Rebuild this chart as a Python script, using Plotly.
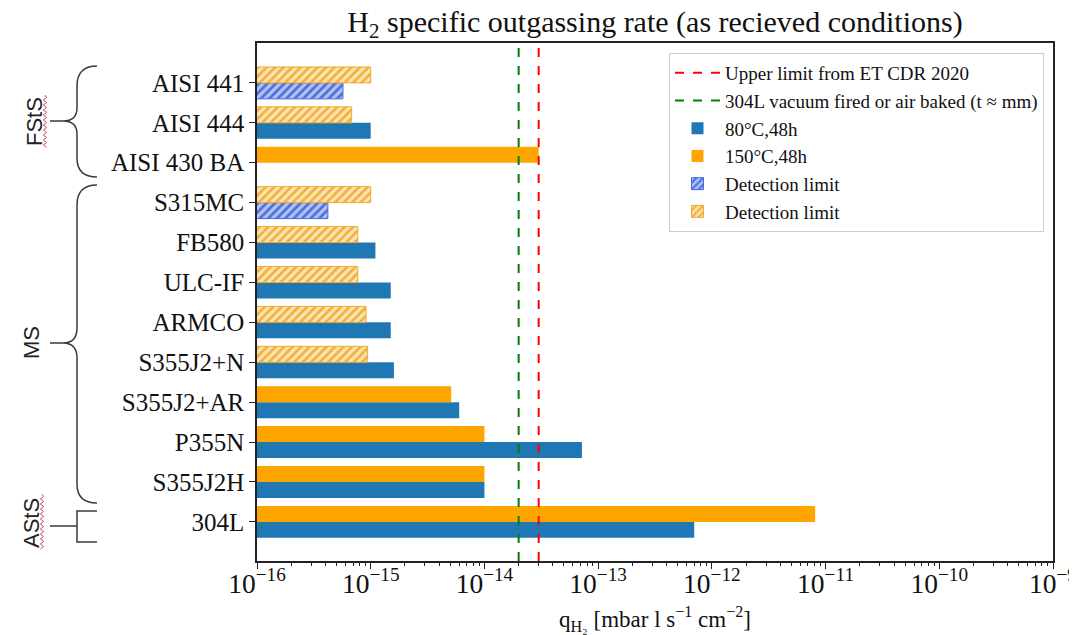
import plotly.graph_objects as go

# ---------------- data ----------------
categories = ["304L", "S355J2H", "P355N", "S355J2+AR", "S355J2+N", "ARMCO",
              "ULC-IF", "FB580", "S315MC", "AISI 430 BA", "AISI 444", "AISI 441"]
blue_80C = [7.0e-13, 1.0e-14, 7.2e-14, 6.0e-15, 1.6e-15, 1.5e-15,
            1.5e-15, 1.1e-15, None, None, 1.0e-15, None]
orange_150C = [8.1e-12, 1.0e-14, 1.0e-14, 5.1e-15, None, None,
               None, None, None, 3.0e-14, None, None]
blue_detlim = [None, None, None, None, None, None,
               None, None, 4.2e-16, None, None, 5.7e-16]
orange_detlim = [None, None, None, None, 9.4e-16, 9.1e-16,
                 7.7e-16, 7.7e-16, 1.0e-15, None, 6.8e-16, 1.0e-15]
upper_limit_ET = 3.0e-14
vacuum_fired_304L = 2.0e-14
group_labels = ["FStS", "MS", "AStS"]

# ---------------- layout geometry (pixels, in screenshot coordinates) ----------------
OFF = 8  # default page body margin
W, H = 1077 - OFF, 635 - OFF
PL, PR, PT, PB = 257, 1053, 43, 561
PW, PH = PR - PL, PB - PT


def px(x):
    return (x - PL) / PW


def py(y):
    return (PB - y) / PH


SERIF = "Liberation Serif"
SANS = "Liberation Sans"

fig = go.Figure()

# reference lines (on overlay axis spanning full height)
fig.add_trace(go.Scatter(x=[upper_limit_ET, upper_limit_ET], y=[0, 1], yaxis="y2",
                         mode="lines", line=dict(color="red", dash="dash", width=2),
                         name="Upper limit from ET CDR 2020"))
fig.add_trace(go.Scatter(x=[vacuum_fired_304L, vacuum_fired_304L], y=[0, 1], yaxis="y2",
                         mode="lines", line=dict(color="green", dash="dash", width=2),
                         name="304L vacuum fired or air baked (t ≈ mm)"))

BW = 0.4
fig.add_trace(go.Bar(y=categories, x=blue_80C, orientation="h", name="80°C,48h",
                     offset=-BW, width=BW,
                     marker=dict(color="#1f77b4", line=dict(width=0))))
fig.add_trace(go.Bar(y=categories, x=orange_150C, orientation="h", name="150°C,48h",
                     offset=0, width=BW,
                     marker=dict(color="#ffa500", line=dict(width=0))))
fig.add_trace(go.Bar(y=categories, x=blue_detlim, orientation="h", name="Detection limit",
                     offset=-BW, width=BW,
                     marker=dict(color="#4169e1",
                                 line=dict(color="#4169e1", width=1),
                                 pattern=dict(shape="/", bgcolor="#b4c2f0", fgcolor="#4a6fe0",
                                              size=6, solidity=0.45, fillmode="replace"))))
fig.add_trace(go.Bar(y=categories, x=orange_detlim, orientation="h", name="Detection limit ",
                     offset=0, width=BW,
                     marker=dict(color="#f5b030",
                                 line=dict(color="#f2aa2a", width=1),
                                 pattern=dict(shape="/", bgcolor="#fbe4b4", fgcolor="#f2b03a",
                                              size=6, solidity=0.45, fillmode="replace"))))

# ---------------- decorations: braces ----------------
def path(points_cmds):
    out = []
    for cmd in points_cmds:
        c = cmd[0]
        nums = cmd[1:]
        conv = []
        for i in range(0, len(nums), 2):
            conv.append(f"{px(nums[i]):.5f},{py(nums[i+1]):.5f}")
        out.append(c + " " + " ".join(conv))
    return " ".join(out)


brace_col = "#3a3a3a"
fstS = path([("M", 97, 66), ("Q", 77, 66, 77, 86), ("L", 77, 108), ("Q", 77, 121, 63, 121),
             ("Q", 77, 121, 77, 134), ("L", 77, 158), ("Q", 77, 177, 97, 177),
             ("M", 50, 121), ("L", 63, 121)])
ms = path([("M", 97, 185), ("Q", 77, 185, 77, 205), ("L", 77, 328), ("Q", 77, 343, 63, 343),
           ("Q", 77, 343, 77, 358), ("L", 77, 484), ("Q", 77, 503, 97, 503),
           ("M", 50, 343), ("L", 63, 343)])
asts = path([("M", 97, 511), ("L", 77, 511), ("L", 77, 542), ("L", 97, 542),
             ("M", 50, 526), ("L", 77, 526)])
shapes = []
for p in (fstS, ms, asts):
    shapes.append(dict(type="path", path=p, xref="paper", yref="paper",
                       line=dict(color=brace_col, width=1.5)))


def squiggle(x, y0, y1, amp=1.6, step=2.5):
    pts = [("M", x, y0)]
    y = y0
    k = 0
    while y + step <= y1:
        y += step
        k += 1
        pts.append(("L", x + (amp if k % 2 else -amp), y))
    return path(pts)


for (x, y0, y1) in [(45, 95, 148), (42, 494, 550)]:
    shapes.append(dict(type="path", path=squiggle(x, y0, y1), xref="paper", yref="paper",
                       line=dict(color="#e0405a", width=1)))

annotations = []
for label, (x, y) in zip(group_labels, [(34, 121), (31, 343), (31, 523)]):
    annotations.append(dict(text=label, x=px(x), y=py(y), xref="paper", yref="paper",
                            showarrow=False, textangle=-90, xanchor="center", yanchor="middle",
                            font=dict(family=SANS, size=22, color="#222")))

fig.update_layout(
    width=W, height=H,
    margin=dict(l=PL - OFF, r=W - (PR - OFF), t=PT - OFF, b=H - (PB - OFF), autoexpand=False),
    paper_bgcolor="white", plot_bgcolor="white",
    barmode="overlay",
    title=dict(text="H<sub>2</sub> specific outgassing rate (as recieved conditions)",
               xref="paper", x=0.5, xanchor="center",
               yref="container", y=1 - (21 - OFF) / H, yanchor="middle",
               font=dict(family=SERIF, size=30, color="#111")),
    xaxis=dict(type="log", range=[-16, -9], dtick=1, exponentformat="power",
               automargin=False,
               showline=True, linecolor="#222", linewidth=1.5, mirror=True,
               ticks="outside", ticklen=6, tickwidth=1.2, tickcolor="#222",
               minor=dict(ticks="outside", ticklen=3.5, tickwidth=1, tickcolor="#222", dtick="D1"),
               showgrid=False, zeroline=False, ticklabelstandoff=-8,
               tickfont=dict(family=SERIF, size=22, color="#111"),
               title=dict(text="q<sub>H₂</sub> [mbar l s<sup>−1</sup> cm<sup>−2</sup>]",
                          font=dict(family=SERIF, size=23, color="#111"), standoff=14)),
    yaxis=dict(type="category", categoryorder="array", categoryarray=categories,
               range=[-0.98, 12.0], automargin=False,
               showline=True, linecolor="#222", linewidth=1.5, mirror=True,
               ticks="outside", ticklen=6, tickwidth=1.2, tickcolor="#222",
               showgrid=False, zeroline=False,
               tickfont=dict(family=SERIF, size=25, color="#111")),
    yaxis2=dict(overlaying="y", range=[0, 1], visible=False),
    legend=dict(x=px(1044), y=py(53), xanchor="right", yanchor="top",
                bgcolor="rgba(255,255,255,0.9)", bordercolor="#cccccc", borderwidth=1,
                itemwidth=45,
                font=dict(family=SERIF, size=19, color="#111"), traceorder="normal"),
    shapes=shapes, annotations=annotations,
)

fig.write_html("out.html")
